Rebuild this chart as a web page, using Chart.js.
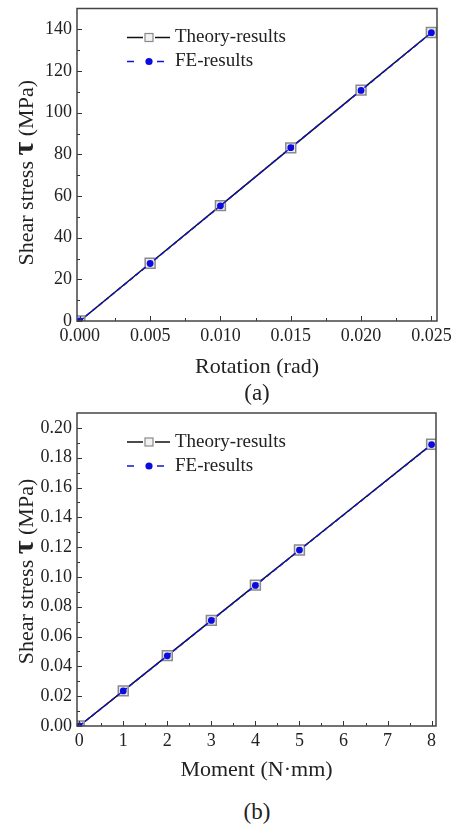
<!DOCTYPE html>
<html>
<head>
<meta charset="utf-8">
<script src="https://cdn.jsdelivr.net/npm/chart.js@4.4.1/dist/chart.umd.min.js"></script>
<style>
  body { margin: 0; background: #fff; }
  #wrap { position: relative; width: 454px; height: 825px; font-family: "Liberation Serif", "Times New Roman", serif; }
  canvas { position: absolute; left: 0; }
  .cap { position: absolute; left: 157px; width: 200px; text-align: center; font-size: 23px; line-height: 24px; color: #222; }
</style>
</head>
<body>
<div id="wrap">
  <canvas id="chartA" width="454" height="387" style="top:0"></canvas>
  <div class="cap" style="top:381px">(a)</div>
  <canvas id="chartB" width="454" height="390" style="top:400px"></canvas>
  <div class="cap" style="top:800px">(b)</div>
</div>
<script>
// (a) shear stress vs rotation
const rotation = [0, 0.005, 0.010, 0.015, 0.020, 0.025];
const tauTheoryA = [0, 27.7, 55.4, 83.1, 110.8, 138.5];
const tauFEA = [0, 27.6, 55.3, 83.2, 110.7, 138.4];
const rotationTicks = [0, 0.005, 0.010, 0.015, 0.020, 0.025];
const tauTicksA = [0, 20, 40, 60, 80, 100, 120, 140];

// (b) shear stress vs moment
const moment = [0, 1, 2, 3, 4, 5, 8];
const tauTheoryB = [0, 0.0236, 0.0472, 0.0709, 0.0945, 0.1181, 0.1890];
const tauFEB = [0, 0.0235, 0.0471, 0.0708, 0.0943, 0.1180, 0.1888];
const momentTicks = [0, 1, 2, 3, 4, 5, 6, 7, 8];
const tauTicksB = [0, 0.02, 0.04, 0.06, 0.08, 0.10, 0.12, 0.14, 0.16, 0.18, 0.20];

const seriesNames = ["Theory-results", "FE-results"];
const FONT = '"Liberation Serif", "Times New Roman", serif';
const INK = "#222";
const BLUE = "#1414d2";

// frame, inward ticks, legend and y title
const decor = {
  id: "decor",
  afterDatasetsDraw(chart, args, opts) {
    const ctx = chart.ctx;
    const a = chart.chartArea;
    const xs = chart.scales.x, ys = chart.scales.y;
    ctx.save();

    // inward ticks
    ctx.strokeStyle = "#333";
    ctx.lineWidth = 1;
    const mids = arr => arr.slice(1).map((v, i) => (v + arr[i]) / 2);
    ctx.beginPath();
    opts.xTicks.forEach(v => { const p = Math.round(xs.getPixelForValue(v)) + 0.5; ctx.moveTo(p, a.bottom); ctx.lineTo(p, a.bottom - 5); });
    mids(opts.xTicks).forEach(v => { const p = Math.round(xs.getPixelForValue(v)) + 0.5; ctx.moveTo(p, a.bottom); ctx.lineTo(p, a.bottom - 3); });
    opts.yTicks.forEach(v => { const p = Math.round(ys.getPixelForValue(v)) + 0.5; ctx.moveTo(a.left, p); ctx.lineTo(a.left + 5, p); });
    mids(opts.yTicks).forEach(v => { const p = Math.round(ys.getPixelForValue(v)) + 0.5; ctx.moveTo(a.left, p); ctx.lineTo(a.left + 3, p); });
    ctx.stroke();

    // frame
    ctx.strokeStyle = "#444";
    ctx.lineWidth = 1.5;
    ctx.strokeRect(a.left, a.top, a.right - a.left, a.bottom - a.top);

    // legend
    const lx = a.left + 50, cx = lx + 22, y1 = a.top + 29, y2 = a.top + 53;
    ctx.lineWidth = 1.5;
    ctx.strokeStyle = "#111";
    ctx.beginPath();
    ctx.moveTo(lx, y1); ctx.lineTo(cx - 6, y1);
    ctx.moveTo(cx + 6, y1); ctx.lineTo(lx + 43, y1);
    ctx.stroke();
    ctx.fillStyle = "#f2f2f2";
    ctx.strokeStyle = "#8a8a8a";
    ctx.lineWidth = 1.2;
    ctx.fillRect(cx - 4, y1 - 4, 8, 8);
    ctx.strokeRect(cx - 4, y1 - 4, 8, 8);

    ctx.strokeStyle = BLUE;
    ctx.lineWidth = 1.5;
    ctx.beginPath();
    ctx.moveTo(lx, y2); ctx.lineTo(lx + 7, y2);
    ctx.moveTo(cx + 8, y2); ctx.lineTo(cx + 15, y2);
    ctx.stroke();
    ctx.fillStyle = "#0b0be0";
    ctx.beginPath();
    ctx.arc(cx, y2, 3.6, 0, Math.PI * 2);
    ctx.fill();

    ctx.fillStyle = INK;
    ctx.font = "19px " + FONT;
    ctx.textBaseline = "middle";
    ctx.textAlign = "left";
    ctx.fillText(seriesNames[0], lx + 48, y1);
    ctx.fillText(seriesNames[1], lx + 48, y2);

    // y title with larger tau
    const parts = [["Shear stress ", "22px " + FONT], ["\u03c4", "bold 30px " + FONT], [" (MPa)", "22px " + FONT]];
    let total = 0;
    parts.forEach(p => { ctx.font = p[1]; total += ctx.measureText(p[0]).width; });
    ctx.translate(33, (a.top + a.bottom) / 2 + opts.titleShift);
    ctx.rotate(-Math.PI / 2);
    ctx.textBaseline = "alphabetic";
    let x = -total / 2;
    parts.forEach(p => { ctx.font = p[1]; ctx.fillText(p[0], x, 0); x += ctx.measureText(p[0]).width; });
    ctx.restore();
  }
};

function makeChart(id, cfg) {
  const pts = ys => cfg.xs.map((x, i) => ({ x: x, y: ys[i] }));
  return new Chart(document.getElementById(id), {
    type: "line",
    data: {
      datasets: [{
        label: seriesNames[0],
        data: pts(cfg.theory),
        borderColor: "#111",
        borderWidth: 1.5,
        pointStyle: "rect",
        pointRadius: 7,
        pointBorderWidth: 1.5,
        pointBorderColor: "#8a8a8a",
        pointBackgroundColor: "#ececf2",
        order: 1
      }, {
        label: seriesNames[1],
        data: pts(cfg.fe),
        borderColor: BLUE,
        borderWidth: 1.5,
        borderDash: [5, 3],
        pointRadius: 3.4,
        pointBorderWidth: 0,
        pointBackgroundColor: "#0b0be0",
        order: 0
      }]
    },
    options: {
      responsive: false,
      devicePixelRatio: 1,
      animation: false,
      layout: { padding: { top: cfg.top, right: cfg.right, left: 0, bottom: 0 } },
      plugins: {
        legend: { display: false },
        tooltip: { enabled: false },
        decor: { xTicks: cfg.xTicks, yTicks: cfg.yTicks, titleShift: cfg.titleShift }
      },
      scales: {
        x: {
          type: "linear",
          min: cfg.xMin, max: cfg.xMax,
          afterBuildTicks: s => { s.ticks = cfg.xTicks.map(v => ({ value: v })); },
          afterFit: s => { s.height = cfg.xHeight; s.paddingLeft = 0; s.paddingRight = 0; },
          grid: { display: false, drawTicks: false },
          border: { display: false },
          ticks: { color: INK, autoSkip: false, maxRotation: 0, padding: 4, font: { family: FONT, size: 18 }, callback: cfg.xFmt },
          title: { display: true, text: cfg.xTitle, color: INK, font: { family: FONT, size: 22 }, padding: { top: 0, bottom: 7 } }
        },
        y: {
          type: "linear",
          min: cfg.yMin, max: cfg.yMax,
          afterBuildTicks: s => { s.ticks = cfg.yTicks.map(v => ({ value: v })); },
          afterFit: s => { s.width = 77; s.paddingTop = 0; s.paddingBottom = 0; },
          grid: { display: false, drawTicks: false },
          border: { display: false },
          ticks: { color: INK, autoSkip: false, padding: 5, font: { family: FONT, size: 18 }, callback: cfg.yFmt }
        }
      }
    },
    plugins: [decor]
  });
}

makeChart("chartA", {
  xs: rotation, theory: tauTheoryA, fe: tauFEA,
  xTicks: rotationTicks, yTicks: tauTicksA,
  xMin: -0.0002, xMax: 0.0254, yMin: 0, yMax: 150,
  xFmt: v => Number(v).toFixed(3), yFmt: v => String(v),
  xTitle: "Rotation (rad)",
  top: 7, right: 17, xHeight: 66, titleShift: 8
});

makeChart("chartB", {
  xs: moment, theory: tauTheoryB, fe: tauFEB,
  xTicks: momentTicks, yTicks: tauTicksB,
  xMin: -0.05, xMax: 8.1, yMin: 0, yMax: 0.21,
  xFmt: v => String(v), yFmt: v => Number(v).toFixed(2),
  xTitle: "Moment (N\u00b7mm)",
  top: 13, right: 18, xHeight: 64, titleShift: 2
});
</script>
</body>
</html>
